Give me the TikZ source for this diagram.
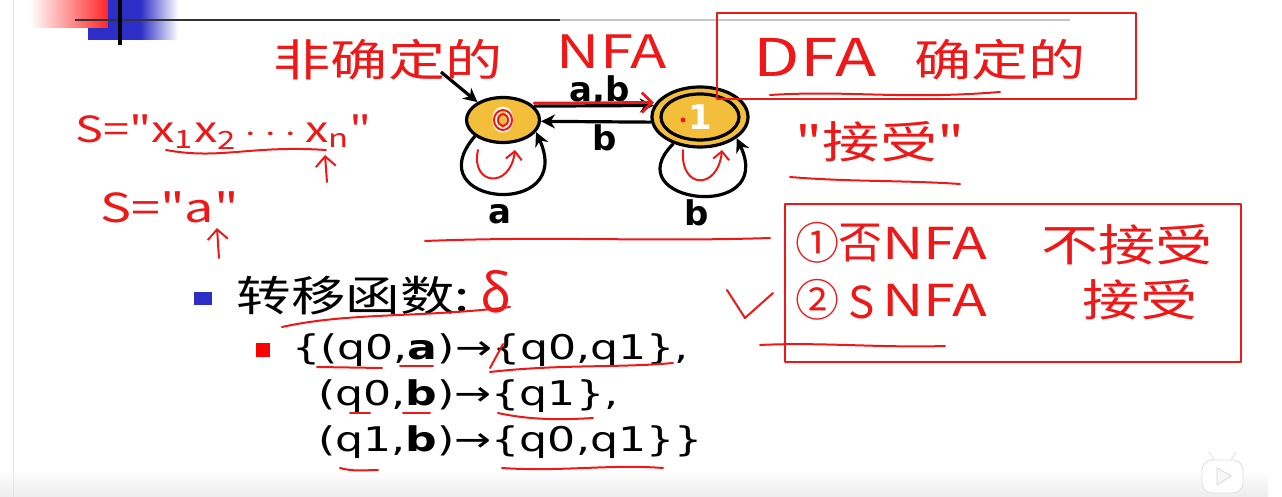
\documentclass[tikz,border=0pt]{standalone}
\usepackage{fontspec}
\setmainfont{DejaVu Sans}
\newfontfamily\cjk{Noto Sans CJK SC}
\usepackage{graphicx}
\usetikzlibrary{arrows.meta,shapes.geometric}
\definecolor{statefill}{RGB}{243,190,58}
\definecolor{slideblue}{RGB}{45,45,200}
\definecolor{inkred}{RGB}{238,24,24}
\newcommand{\wide}[1]{\scalebox{1.3}[1]{#1}}

\begin{document}
\begin{tikzpicture}[x=0.5pt,y=-0.5pt,line join=round,
  state/.style={ellipse,draw=black,line width=1.6pt,fill=statefill,inner sep=0pt},
  edge/.style={line width=1.6pt,-{Stealth[length=7pt,width=7pt]}},
  lbl/.style={inner sep=0pt,font=\fontsize{17}{17}\selectfont\bfseries},
  fnline/.style={anchor=west,inner sep=0pt,font=\fontsize{17}{17}\selectfont},
  hand/.style={text=inkred,inner sep=0pt,font=\cjk\fontsize{22}{22}\selectfont},
  handbig/.style={hand,font=\cjk\fontsize{26}{26}\selectfont},
  handmid/.style={hand,font=\cjk\fontsize{23}{23}\selectfont},
  handsmall/.style={hand,font=\cjk\fontsize{18}{18}\selectfont},
  ink/.style={inkred,line width=1pt,line cap=round}]
\useasboundingbox (0,0) rectangle (1282,497);
\fill[white] (0,0) rectangle (1282,497);
% slide frame
\shade[top color=white,bottom color=gray!14] (0,470) rectangle (1268,497);
\draw[gray!20] (13,0) -- (13,497);
\shade[left color=white,right color=red!85] (30,0) rectangle (108,28);
\fill[slideblue] (88,28) rectangle (140,40);
\fill[slideblue] (108,0) rectangle (140,40);
\shade[left color=slideblue,right color=white] (140,0) rectangle (178,40);
\draw[black!80,line width=1.4pt] (75,20) -- (560,20);
\draw[gray!45,line width=1.4pt] (560,20) -- (1070,20);
\draw[line width=1.6pt] (120,0) -- (120,45);
\draw[gray!25,fill=white,rounded corners=5] (1202,460) rectangle (1243,493);
\draw[gray!25] (1214,460) -- (1209,452) (1231,460) -- (1236,452);
\draw[gray!30,fill=gray!6] (1217,468) -- (1231,476) -- (1217,485) -- cycle;

% automaton
\node[state,minimum width=36.5pt,minimum height=22.5pt] (q0) at (503,120) {};
\node[state,minimum width=48pt,minimum height=30pt] (q1) at (700,117) {};
\node[ellipse,draw=black,line width=1.6pt,minimum width=39pt,minimum height=23pt] (q1in) at (q1) {};
\node[lbl,text=white] (n0) at (q0) {0};
\node[lbl,text=white] (n1) at (q1) {1};
\coordinate (start) at (441,72);
\draw[edge] (start) -- (q0.145);
\draw[edge] (q0.24) -- (q1.166);
\draw[edge] (q1.186) -- (q0.-2);
\draw[edge] (q0.210) .. controls +(-60,70) and +(40,88) .. (q0.-20);
\draw[edge] (q1.225) .. controls +(-60,60) and +(40,85) .. (q1.-30);
\node[lbl] (ab) at (600,91) {a,b};
\node[lbl] (b01) at (605,138) {b};
\node[lbl] (la) at (500,214) {a};
\node[lbl] (lb) at (697,213) {b};

% transition function
\fill[slideblue] (194,292) rectangle (212,305);
\node[anchor=west,inner sep=0pt,font=\cjk\fontsize{21}{21}\selectfont] (fn) at (236,296) {\wide{转移函数:}};
\fill[red] (256,343) rectangle (270,357);
\node[fnline] (l1) at (292,350) {\wide{\{(q0,\textbf{a})→\{q0,q1\},}};
\node[fnline] (l2) at (318,396) {\wide{(q0,\textbf{b})→\{q1\},}};
\node[fnline] (l3) at (318,442) {\wide{(q1,\textbf{b})→\{q0,q1\}\}}};

% handwriting
\node[hand] (fei) at (388,60) {\wide{非确定的}};
\node[handmid] (nfa) at (612,52) {\wide{NFA}};
\draw[inkred,line width=1.2pt] (717,13) rectangle (1136,99);
\node[handbig] (dfa) at (815,57) {\wide{DFA}};
\node[hand] (det) at (1000,60) {\wide{确定的}};
\draw[ink] (770,95) .. controls (850,90) and (900,100) .. (1000,92);
\node[hand] (acc) at (880,142) {\wide{"接受"}};
\draw[ink] (790,177) .. controls (850,182) and (900,180) .. (960,184);
\node[handsmall,anchor=west] (s1) at (75,132) {\wide{S="x\textsubscript{1}x\textsubscript{2}\,$\cdots$\,x\textsubscript{n}"}};
\draw[ink] (166,150) .. controls (220,160) and (250,145) .. (326,150);
\draw[ink,-{Straight Barb[length=5pt]}] (327,182) -- (325,155);
\node[handsmall,font=\cjk\fontsize{20}{20}\selectfont,anchor=west] (s2) at (100,207) {\wide{S="a"}};
\draw[ink,-{Straight Barb[length=5pt]}] (219,258) -- (217,228);
\draw[ink] (425,241) .. controls (550,236) and (650,242) .. (770,238);
\draw[inkred,line width=1.2pt] (785,204) rectangle (1241,362);
\node[hand] (c1) at (817,243) {①};
\node[hand] (fou) at (860,243) {否};
\node[hand] (nfa1) at (935,243) {\wide{NFA}};
\node[hand] (rej) at (1127,245) {\wide{不接受}};
\node[hand] (c2) at (817,300) {②};
\node[hand] (sx) at (862,302) {S};
\node[hand] (nfa2) at (935,300) {\wide{NFA}};
\node[hand] (acc2) at (1140,300) {\wide{接受}};
\draw[ink] (727,290) -- (745,318) -- (773,293);
\draw[ink] (760,345) .. controls (820,342) and (880,348) .. (945,346);
% marks on the automaton
\draw[ink,line width=1.4pt,-{Straight Barb[length=5pt]}] ([yshift=1.5pt]q0.24) -- ([yshift=1.5pt]q1.166);
\draw[ink] (q0) ellipse (9 and 10);
\draw[ink] (q0) ellipse (5 and 6);
\fill[inkred] (683,120) circle (2.5);
\draw[ink,-{Straight Barb[length=4pt]}] (478,150) .. controls (470,185) and (510,190) .. (515,150);
\draw[ink,-{Straight Barb[length=4pt]}] (683,150) .. controls (680,190) and (718,190) .. (722,150);
% marks on the transition function
\node[handbig] (delta) at (496,292) {δ};
\draw[ink] (282,327) .. controls (350,312) and (420,318) .. (510,307);
\draw[ink] (490,368) -- (503,344);
\draw[ink] (317,367) -- (382,368);
\draw[ink] (400,366) -- (433,366);
\draw[ink] (490,372) .. controls (560,364) and (620,368) .. (673,363);
\draw[ink] (350,413) -- (370,413);
\draw[ink] (403,413) -- (430,413);
\draw[ink] (498,413) .. controls (530,420) and (560,420) .. (593,418);
\draw[ink] (340,468) .. controls (355,472) and (365,470) .. (378,470);
\draw[ink] (502,468) .. controls (560,472) and (610,464) .. (663,468);
\end{tikzpicture}
\end{document}
